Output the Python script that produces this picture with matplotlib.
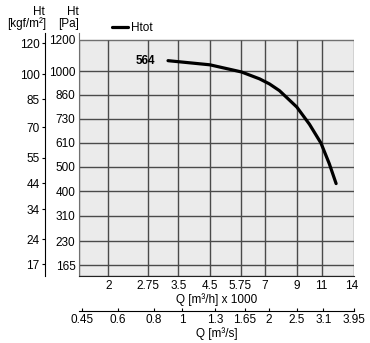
import numpy as np
import matplotlib
matplotlib.use('Agg')
from matplotlib import pyplot as plt
from matplotlib.patches import Rectangle
from matplotlib.ticker import NullLocator

plt.rcParams['font.family'] = ['Liberation Sans', 'DejaVu Sans']
plt.rcParams['font.size'] = 8.5

# fan curve: flow in 1000 m3/h, total pressure in Pa
q_flow = [3.22, 4.5, 5.79, 6.7, 7.25, 7.85, 9.02, 9.98, 10.94, 11.69, 12.35]
h_tot = [1065, 1039, 995, 953, 923, 884, 792, 701, 608, 514, 430]

pa_ticks = [165, 230, 310, 400, 500, 610, 730, 860, 1000, 1200]
kgf_ticks = [17, 24, 34, 44, 55, 70, 85, 100, 120]
qh_ticks = [2, 2.75, 3.5, 4.5, 5.75, 7, 9, 11, 14]
qs_ticks = [0.45, 0.6, 0.8, 1, 1.3, 1.65, 2, 2.5, 3.1, 3.95]

G = 9.81  # Pa per kgf/m2

W, H = 370, 343
rect = [79 / W, (H - 276) / H, (354 - 79) / W, (276 - 33) / H]
fig = plt.figure(figsize=(W / 100, H / 100), dpi=100)
ax = fig.add_axes(rect)
ax.set_facecolor('none')

x0, x1 = 1.58, 14.25
y0, y1, ytop = 139, 1200, 1247
ax.set_xscale('log')
ax.set_yscale('function', functions=(np.sqrt, np.square))
ax.set_xlim(x0, x1)
ax.set_ylim(y0, ytop)

# grey chart field with its grid
ax.add_patch(Rectangle((x0, y0), x1 - x0, y1 - y0, facecolor='#ebebeb',
                       edgecolor='#707070', lw=1.0, zorder=0))
ax.hlines(pa_ticks[:-1], x0, x1, color='#4a4a4a', lw=1.0, zorder=1)
ax.vlines(qh_ticks[:-1], y0, y1, color='#4a4a4a', lw=1.0, zorder=1)

ax.plot(q_flow, h_tot, color='black', lw=2.3, solid_capstyle='round',
        solid_joinstyle='round', zorder=3, label='Htot')
ax.annotate('564', (q_flow[0], h_tot[0]), xytext=(-9, 0),
            textcoords='offset points', ha='right', va='center',
            fontweight='bold')

for s in ['top', 'right']:
    ax.spines[s].set_visible(False)
ax.spines['left'].set_color('#707070')
ax.spines['bottom'].set_color('#222222')

ax.yaxis.set_minor_locator(NullLocator())
ax.set_yticks(pa_ticks, [str(v) for v in pa_ticks])
ax.tick_params(axis='y', length=0, pad=2.5)
ax.xaxis.set_minor_locator(NullLocator())
ax.set_xticks(qh_ticks, [f'{v:g}' for v in qh_ticks])
ax.tick_params(axis='x', length=0, pad=3)
ax.set_xlabel('Q [m³/h] x 1000', labelpad=0.5)

# kgf/m2 scale on the far left, same sqrt scale with converted limits
axk = fig.add_axes(rect)
axk.set_facecolor('none')
axk.set_yscale('function', functions=(np.sqrt, np.square))
axk.set_ylim(y0 / G, ytop / G)
axk.xaxis.set_visible(False)
for s in ['top', 'right', 'bottom']:
    axk.spines[s].set_visible(False)
axk.spines['left'].set_position(('axes', (45 - 79) / (354 - 79)))
axk.spines['left'].set_linewidth(0.8)
axk.yaxis.set_minor_locator(NullLocator())
axk.set_yticks(kgf_ticks, [str(v) for v in kgf_ticks])
axk.tick_params(axis='y', length=2.5, width=0.8, pad=1.5)

# m3/s scale below
sx = ax.secondary_xaxis((276 - 311) / (276 - 33),
                        functions=(lambda q: q / 3.6, lambda m: m * 3.6))
sx.xaxis.set_minor_locator(NullLocator())
sx.set_xticks(qs_ticks, [f'{v:g}' for v in qs_ticks])
sx.tick_params(axis='x', direction='in', length=2.5, width=0.8, pad=2.5)
sx.spines['bottom'].set_linewidth(0.8)
sx.set_xlabel('Q [m³/s]', labelpad=0.5)

fig.text(45 / W, 1 - 12 / H, 'Ht', ha='right', va='center')
fig.text(46 / W, 1 - 24 / H, '[kgf/m²]', ha='right', va='center')
fig.text(79 / W, 1 - 12 / H, 'Ht', ha='right', va='center')
fig.text(79 / W, 1 - 24 / H, '[Pa]', ha='right', va='center')

ax.legend(loc='center left', bbox_to_anchor=(112 / W, 1 - 28 / H),
          bbox_transform=fig.transFigure, frameon=False, handlelength=1.35,
          handletextpad=0.3, borderpad=0, borderaxespad=0)

fig.savefig('out.png', dpi=100)
